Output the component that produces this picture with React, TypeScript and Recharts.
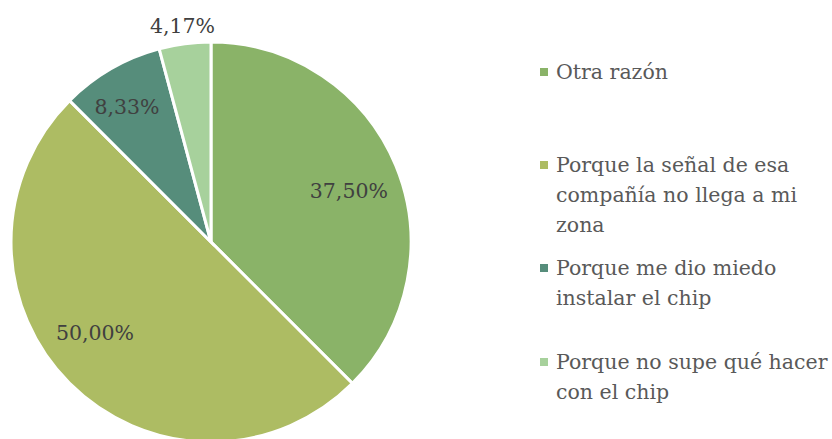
import React from 'react';
import { PieChart, Pie, Cell } from 'recharts';

document.body.style.margin = '0';

const categories = [
  'Otra razón',
  'Porque la señal de esa compañía no llega a mi zona',
  'Porque me dio miedo instalar el chip',
  'Porque no supe qué hacer con el chip',
];
const legendLines = [
  ['Otra razón'],
  ['Porque la señal de esa', 'compañía no llega a mi', 'zona'],
  ['Porque me dio miedo', 'instalar el chip'],
  ['Porque no supe qué hacer', 'con el chip'],
];
const percents = [37.5, 50.0, 8.33, 4.17];
const colors = ['#8ab368', '#adbc63', '#568d7b', '#a7d19c'];

// label distance from centre (fraction of radius) and angle nudge (degrees)
const labelRadius = [0.735, 0.737, 0.795, 1.09];
const labelShift = [-2.2, -6.9, 1.9, 0];
// top of each legend entry
const legendTops = [57, 150, 253, 347];

const data = categories.map((name, i) => ({ name, value: percents[i] }));

const FONT = '"DejaVu Serif", serif';
const RADIAN = Math.PI / 180;

function renderLabel(props: any) {
  const { cx, cy, midAngle, outerRadius, index, value } = props;
  const r = outerRadius * labelRadius[index];
  const a = midAngle + labelShift[index];
  const x = cx + r * Math.cos(-a * RADIAN);
  const y = cy + r * Math.sin(-a * RADIAN);
  return (
    <text
      x={x}
      y={y}
      fill="#404040"
      fontSize={20.5}
      fontFamily={FONT}
      textAnchor="middle"
      dominantBaseline="central"
    >
      {value.toFixed(2).replace('.', ',')}%
    </text>
  );
}

export default function App() {
  return (
    <div
      style={{
        position: 'relative',
        width: 832,
        height: 439,
        background: '#fff',
        overflow: 'hidden',
      }}
    >
      <PieChart width={832} height={439} margin={{ top: 0, right: 0, bottom: 0, left: 0 }}>
        <Pie
          data={data}
          dataKey="value"
          nameKey="name"
          cx={211}
          cy={242}
          outerRadius={200}
          startAngle={90}
          endAngle={-270}
          stroke="#ffffff"
          strokeWidth={3}
          label={renderLabel}
          labelLine={false}
          isAnimationActive={false}
        >
          {data.map((d, i) => (
            <Cell key={d.name} fill={colors[i]} />
          ))}
        </Pie>
      </PieChart>
      {legendLines.map((lines, i) => (
        <div
          key={i}
          style={{
            position: 'absolute',
            left: 540,
            top: legendTops[i],
            display: 'flex',
            alignItems: 'flex-start',
            fontFamily: FONT,
            fontSize: 20.5,
            color: '#595959',
            whiteSpace: 'nowrap',
          }}
        >
          <span
            style={{
              width: 8,
              height: 8,
              background: colors[i],
              marginTop: 11,
              marginRight: 8,
              flex: 'none',
            }}
          />
          <div style={{ lineHeight: '30px' }}>
            {lines.map((l, j) => (
              <div key={j}>{l}</div>
            ))}
          </div>
        </div>
      ))}
    </div>
  );
}
